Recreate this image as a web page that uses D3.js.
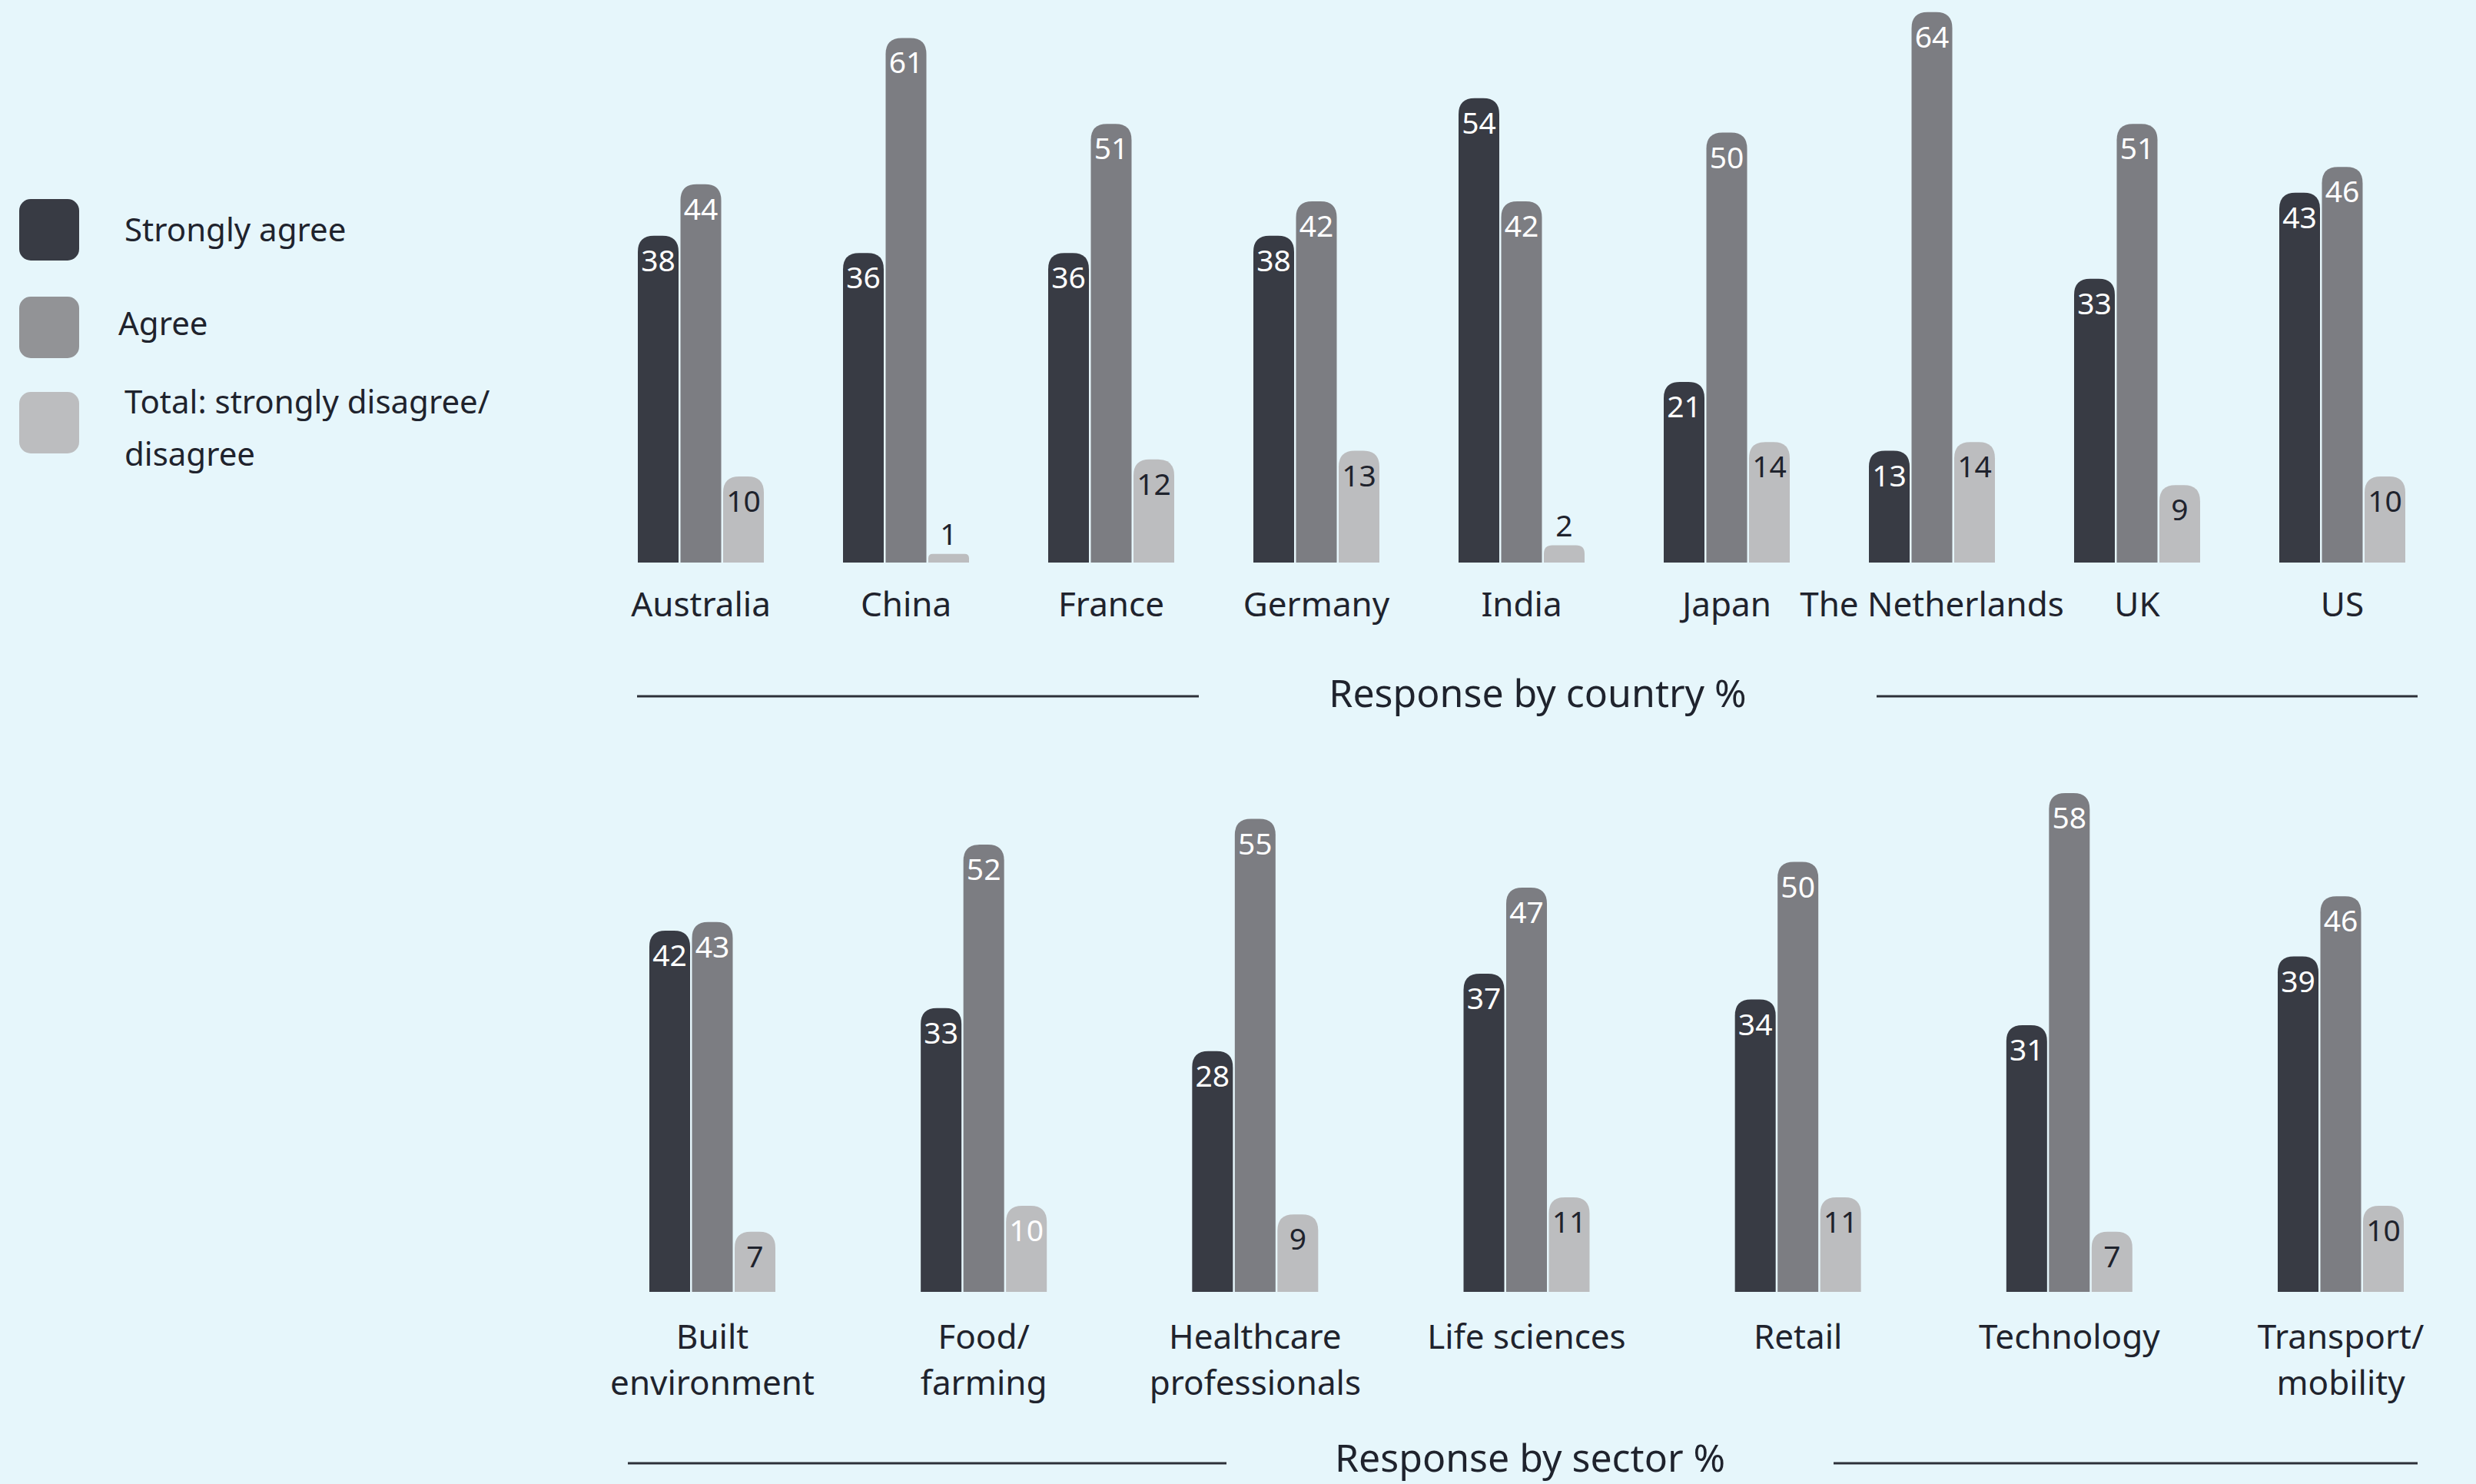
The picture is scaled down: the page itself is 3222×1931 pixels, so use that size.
<!DOCTYPE html>
<html>
<head>
<meta charset="utf-8">
<script src="https://cdn.jsdelivr.net/npm/d3@7"></script>
<style>
  html, body { margin: 0; padding: 0; background: #e6f6fb; }
  svg { display: block; font-family: "Noto Sans", "Open Sans", sans-serif; }
</style>
</head>
<body>
<svg id="chart" width="3222" height="1931"></svg>
<script>
// ---------- data ----------
const seriesKeys = ["strong", "agree", "disagree"];
const legendLabels = ["Strongly agree", "Agree", "Total: strongly disagree/\ndisagree"];

const countries = ["Australia", "China", "France", "Germany", "India", "Japan", "The Netherlands", "UK", "US"];
const countryStrong   = [38, 36, 36, 38, 54, 21, 13, 33, 43];
const countryAgree    = [44, 61, 51, 42, 42, 50, 64, 51, 46];
const countryDisagree = [10, 1, 12, 13, 2, 14, 14, 9, 10];

const sectors = ["Built\nenvironment", "Food/\nfarming", "Healthcare\nprofessionals", "Life sciences", "Retail", "Technology", "Transport/\nmobility"];
const sectorStrong   = [42, 33, 28, 37, 34, 31, 39];
const sectorAgree    = [43, 52, 55, 47, 50, 58, 46];
const sectorDisagree = [7, 10, 9, 11, 11, 7, 10];

const panelTitles = ["Response by country %", "Response by sector %"];

// ---------- styles ----------
const colors = { strong: "#383b44", agree: "#7c7d82", disagree: "#bcbdbf" };
const textColor = "#1f232d";
const lineColor = "#2d3039";

const svg = d3.select("#chart");
svg.append("rect").attr("width", 3222).attr("height", 1931).attr("fill", "#e6f6fb");

function topRoundedBar(x, y, w, h, rMax) {
  const r = Math.max(0, Math.min(rMax, w / 2, h / 2));
  const p = d3.path();
  p.moveTo(x, y + h);
  p.lineTo(x, y + r);
  p.quadraticCurveTo(x, y, x + r, y);
  p.lineTo(x + w - r, y);
  p.quadraticCurveTo(x + w, y, x + w, y + r);
  p.lineTo(x + w, y + h);
  p.closePath();
  return p.toString();
}

function drawPanel(cfg) {
  const { cats, strong, agree, disagree, xRange, baseline, labelBaseline, whiteOnLight } = cfg;
  const rows = cats.map((c, i) => ({ cat: c, strong: strong[i], agree: agree[i], disagree: disagree[i] }));

  const x = d3.scalePoint().domain(cats).range(xRange);
  const inner = d3.scaleBand().domain(seriesKeys).range([-82, 82]).paddingInner(0.045);
  const y = d3.scaleLinear().domain([0, 100]).range([baseline, baseline - 1119]);

  const g = svg.append("g");
  const groups = g.selectAll("g.grp").data(rows).join("g")
    .attr("class", "grp")
    .attr("transform", d => `translate(${x(d.cat)},0)`);

  groups.each(function (d) {
    const gg = d3.select(this);
    seriesKeys.forEach(k => {
      const v = d[k];
      const bx = inner(k), bw = inner.bandwidth();
      const top = y(v), h = y(0) - y(v);
      gg.append("path")
        .attr("d", topRoundedBar(bx, top, bw, h, 21))
        .attr("fill", colors[k]);
      const inside = h >= 60;
      let fill = k === "disagree" ? textColor : "#ffffff";
      if (k === "disagree" && whiteOnLight.includes(d.cat)) fill = "#ffffff";
      if (!inside) fill = textColor;
      gg.append("text")
        .attr("x", bx + bw / 2)
        .attr("y", inside ? top + 46 : top - 12)
        .attr("text-anchor", "middle")
        .attr("font-size", 39)
        .attr("fill", fill)
        .text(v);
    });
  });

  // category labels
  groups.each(function (d) {
    const lines = d.cat.split("\n");
    const t = d3.select(this).append("text")
      .attr("text-anchor", "middle")
      .attr("font-size", 44)
      .attr("fill", textColor);
    lines.forEach((ln, i) => {
      t.append("tspan").attr("x", 0).attr("y", labelBaseline + i * 60).text(ln);
    });
  });
}

drawPanel({
  cats: countries, strong: countryStrong, agree: countryAgree, disagree: countryDisagree,
  xRange: [912, 3048], baseline: 732, labelBaseline: 802, whiteOnLight: []
});
drawPanel({
  cats: sectors, strong: sectorStrong, agree: sectorAgree, disagree: sectorDisagree,
  xRange: [927, 3046], baseline: 1681, labelBaseline: 1755, whiteOnLight: ["Food/\nfarming"]
});

// panel titles with rules
const titleSpecs = [
  { text: panelTitles[0], cx: 2001, by: 920, ly: 906, l: [829, 1560], r: [2442, 3146] },
  { text: panelTitles[1], cx: 1991, by: 1915, ly: 1904, l: [817, 1596], r: [2386, 3146] }
];
titleSpecs.forEach(s => {
  svg.append("text").attr("x", s.cx).attr("y", s.by).attr("text-anchor", "middle")
    .attr("font-size", 50).attr("fill", textColor).text(s.text);
  [s.l, s.r].forEach(seg => {
    svg.append("line").attr("x1", seg[0]).attr("x2", seg[1]).attr("y1", s.ly).attr("y2", s.ly)
      .attr("stroke", lineColor).attr("stroke-width", 3);
  });
});

// legend
const legendSwatchY = [259, 386, 510];
const legendTextX = [162, 154, 162];
const legendTextY = [314, 436, 538];
const legendColors = [colors.strong, "#929396", colors.disagree];
legendLabels.forEach((lab, i) => {
  svg.append("rect").attr("x", 25).attr("y", legendSwatchY[i]).attr("width", 78).attr("height", 80)
    .attr("rx", 15).attr("fill", legendColors[i]);
  const t = svg.append("text").attr("font-size", 42).attr("fill", textColor);
  lab.split("\n").forEach((ln, j) => {
    t.append("tspan").attr("x", legendTextX[i]).attr("y", legendTextY[i] + j * 68).text(ln);
  });
});
</script>
</body>
</html>
